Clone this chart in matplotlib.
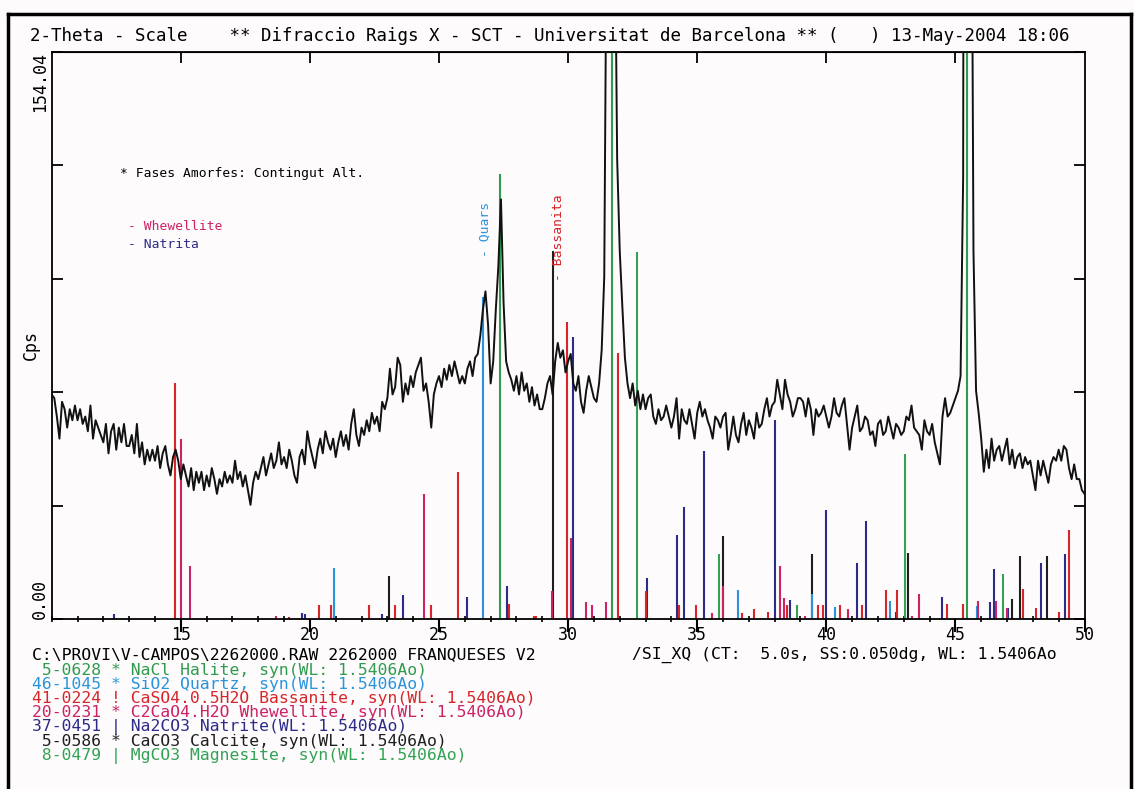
import numpy as np
import matplotlib.pyplot as plt
from matplotlib.lines import Line2D

plt.rcParams['font.family'] = ['DejaVu Sans Mono', 'DejaVu Sans']

W, H = 1134, 789

# diffractogram, 2-theta from 10 to 50 deg, 0.1 deg step
two_theta = np.round(np.arange(100, 501) * 0.1, 1)
counts = [
    61, 60, 55, 49, 59, 57, 52, 57, 54, 58,   # 10
    54, 57, 53, 55, 51, 58, 49, 54, 52, 50,   # 11
    48, 53, 45, 51, 53, 46, 52, 48, 53, 47,   # 12
    47, 50, 45, 53, 44, 48, 42, 46, 43, 46,   # 13
    43, 47, 41, 45, 47, 42, 39, 44, 46, 43,   # 14
    38, 42, 39, 36, 41, 35, 40, 37, 40, 35,   # 15
    39, 36, 41, 38, 34, 38, 36, 40, 37, 39,   # 16
    37, 43, 38, 40, 36, 39, 35, 31, 37, 40,   # 17
    38, 41, 44, 39, 42, 45, 41, 43, 48, 42,   # 18
    44, 41, 46, 43, 39, 37, 44, 46, 42, 51,   # 19
    47, 44, 41, 46, 49, 45, 51, 48, 46, 49,   # 20
    44, 48, 51, 47, 50, 46, 53, 57, 50, 47,   # 21
    52, 50, 54, 51, 56, 53, 55, 51, 59, 57,   # 22
    60, 68, 61, 63, 71, 69, 59, 64, 61, 66,   # 23
    63, 67, 69, 71, 62, 64, 59, 52, 61, 64,   # 24
    66, 63, 68, 65, 69, 66, 70, 67, 64, 66,   # 25
    64, 68, 70, 66, 71, 72, 77, 84, 89, 80,   # 26
    64, 70, 84, 96, 114, 86, 70, 67, 65, 62,  # 27
    66, 61, 67, 62, 64, 59, 63, 58, 61, 57,   # 28
    57, 60, 64, 66, 61, 70, 75, 71, 73, 67,   # 29
    70, 72, 64, 62, 66, 59, 56, 62, 66, 63,   # 30
    60, 59, 64, 73, 93, 200, 1000, 1400, 200, 125,  # 31
    100, 85, 71, 64, 60, 64, 58, 62, 57, 61,  # 32
    57, 60, 61, 55, 53, 57, 54, 55, 58, 55,   # 33
    52, 55, 60, 49, 57, 54, 53, 57, 53, 49,   # 34
    56, 59, 55, 57, 54, 52, 49, 55, 54, 52,   # 35
    55, 56, 46, 50, 55, 50, 48, 53, 56, 50,   # 36
    54, 52, 49, 56, 52, 53, 57, 60, 55, 58,   # 37
    59, 65, 61, 57, 65, 61, 59, 55, 57, 60,   # 38
    60, 59, 55, 60, 57, 50, 57, 55, 56, 58,   # 39
    55, 52, 55, 60, 56, 55, 58, 60, 53, 46,   # 40
    52, 55, 58, 51, 52, 55, 54, 50, 51, 47,   # 41
    53, 54, 50, 51, 55, 52, 49, 53, 52, 50,   # 42
    51, 55, 54, 58, 52, 51, 50, 46, 54, 51,   # 43
    50, 53, 48, 45, 42, 55, 60, 55, 56, 58,   # 44
    60, 62, 66, 120, 600, 900, 250, 100, 62, 56,  # 45
    49, 40, 46, 41, 49, 43, 46, 47, 43, 46,   # 46
    49, 42, 46, 41, 44, 45, 41, 44, 42, 43,   # 47
    39, 35, 43, 39, 43, 40, 37, 42, 44, 43,   # 48
    46, 43, 47, 46, 41, 38, 42, 38, 38, 35,   # 49
    34,
]

# reference patterns (position in 2-theta, stick height in cps)
halite_pos = [27.36, 31.70, 45.46]
halite_h = [121, 930, 510]

quartz_pos = [20.92, 26.69, 36.57, 39.46, 40.35, 42.47, 45.82]
quartz_h = [13.8, 87.6, 7.9, 6.7, 3.2, 5.0, 3.4]

bassanite_pos = [14.79, 19.19, 20.36, 20.81, 22.30, 23.31, 24.69, 25.72, 27.72,
                 28.68, 28.76, 29.94, 31.92, 33.02, 34.31, 34.95, 36.75, 37.21,
                 37.75, 38.47, 39.69, 39.86, 40.53, 41.39, 42.31, 42.74, 44.69,
                 45.28, 47.63, 48.12, 49.00, 49.39]
bassanite_h = [64, 0.6, 3.9, 3.9, 3.9, 3.9, 3.9, 40, 4.1,
               0.8, 0.8, 80.6, 72.4, 7.7, 3.9, 3.9, 1.6, 2.7,
               1.9, 3.9, 3.9, 3.9, 3.9, 3.9, 7.9, 7.9, 4.1,
               4.1, 8.1, 3.0, 1.9, 24.1]

whewellite_pos = [15.01, 15.36, 18.69, 24.42, 29.38, 30.12, 30.69, 30.91, 31.47,
                  35.58, 36.01, 38.21, 38.35, 39.16, 40.85, 43.33, 43.60, 45.89,
                  46.58, 46.99]
whewellite_h = [48.8, 14.4, 0.8, 34, 7.7, 22, 4.5, 3.9, 4.5,
                1.6, 9.0, 14.5, 5.7, 0.8, 2.7, 0.8, 6.8, 4.8,
                4.8, 3.0]

natrite_pos = [12.42, 19.69, 19.82, 22.79, 23.59, 26.10, 27.64, 30.18, 33.07,
               34.23, 34.49, 35.27, 38.02, 38.59, 40.00, 41.18, 41.54, 42.70,
               44.49, 46.34, 46.50, 47.05, 48.30, 49.26]
natrite_h = [1.4, 1.6, 1.4, 1.4, 6.6, 5.9, 9.0, 76.5, 11.2,
             22.7, 30.3, 45.7, 54, 5.2, 29.6, 15.1, 26.5, 1.9,
             5.9, 4.6, 13.6, 3.0, 15.3, 17.6]

calcite_pos = [23.07, 29.40, 36.01, 39.46, 43.16, 47.18, 47.50, 48.56]
calcite_h = [11.7, 100, 22.5, 17.6, 17.8, 5.3, 17, 17]

magnesite_pos = [32.66, 35.86, 38.87, 43.04, 46.83]
magnesite_h = [99.8, 17.6, 3.7, 44.8, 12.1]

c_halite = '#2f9b4f'
c_quartz = '#2b93dc'
c_bassanite = '#d6262a'
c_whewellite = '#cc2266'
c_natrite = '#2c2c88'
c_calcite = '#1e1e1e'
c_magnesite = '#33a255'

card_lines = [
    (" 5-0628 * NaCl Halite, syn(WL: 1.5406Ao)", c_halite),
    ("46-1045 * SiO2 Quartz, syn(WL: 1.5406Ao)", c_quartz),
    ("41-0224 ! CaSO4.0.5H2O Bassanite, syn(WL: 1.5406Ao)", c_bassanite),
    ("20-0231 * C2CaO4.H2O Whewellite, syn(WL: 1.5406Ao)", c_whewellite),
    ("37-0451 | Na2CO3 Natrite(WL: 1.5406Ao)", c_natrite),
    (" 5-0586 * CaCO3 Calcite, syn(WL: 1.5406Ao)", c_calcite),
    (" 8-0479 | MgCO3 Magnesite, syn(WL: 1.5406Ao)", c_magnesite),
]

paper = '#fdfbfb'
fig = plt.figure(figsize=(W / 100, H / 100), dpi=100, facecolor=paper)
ax = fig.add_axes([51.7 / W, 1 - 619 / H, (1084.5 - 51.7) / W, (619 - 52) / H])
ax.set_facecolor(paper)

# sticks first, scan on top
patterns = [
    (calcite_pos, calcite_h, c_calcite),
    (natrite_pos, natrite_h, c_natrite),
    (bassanite_pos, bassanite_h, c_bassanite),
    (quartz_pos, quartz_h, c_quartz),
    (whewellite_pos, whewellite_h, c_whewellite),
    (magnesite_pos, magnesite_h, c_magnesite),
    (halite_pos, halite_h, c_halite),
]
for pos, h, col in patterns:
    ax.vlines(pos, 0, h, colors=col, lw=1.5, zorder=2)

ax.plot(two_theta, counts, color='#111111', lw=1.4, zorder=3)

ax.set_xlim(10, 50)
ax.set_ylim(0, 154.04)
for s in ax.spines.values():
    s.set_linewidth(1.3)

ax.set_xticks(range(15, 51, 5))
ax.set_xticks(np.arange(10, 51, 1), minor=True)
ax.tick_params(axis='x', which='major', direction='out', length=9, width=1.5,
               labelsize=12, pad=-4)
ax.tick_params(axis='x', which='minor', direction='inout', length=5, width=1.2)
ax.set_yticks(np.linspace(0, 154.04, 6))
ax.tick_params(axis='y', direction='in', length=8, width=1.3,
               left=True, right=True, labelleft=False)

top = ax.secondary_xaxis('top')
top.set_xticks(range(15, 50, 5))
top.tick_params(direction='in', length=8, width=1.3, labeltop=False)

ax.text(-0.011, 154.04, '154.04', rotation=90, ha='center', va='top',
        fontsize=12, transform=ax.get_yaxis_transform())
ax.text(-0.011, 0, '0.00', rotation=90, ha='center', va='bottom',
        fontsize=12, transform=ax.get_yaxis_transform())
ax.set_ylabel('Cps', fontsize=12)
ax.yaxis.set_label_coords(-0.011, 0.483)

# notes inside the plot
ax.text(0.066, 0.785, '* Fases Amorfes: Contingut Alt.', fontsize=9.4,
        va='center', transform=ax.transAxes)
ax.text(0.074, 0.693, '- Whewellite', fontsize=9.4, color=c_whewellite,
        va='center', transform=ax.transAxes)
ax.text(0.074, 0.661, '- Natrita', fontsize=9.4, color=c_natrite,
        va='center', transform=ax.transAxes)
ax.text(26.78, 98.4, '- Quars', rotation=90, ha='center', va='bottom',
        fontsize=9.4, color=c_quartz)
ax.text(29.62, 91.8, '- Bassanita', rotation=90, ha='center', va='bottom',
        fontsize=9.4, color=c_bassanite)


def ftext(x, y, s, **kw):
    fig.text(x / W, 1 - y / H, s, va='center', ha='left', **kw)


ftext(30, 36, "2-Theta - Scale    ** Difraccio Raigs X - SCT - Universitat "
              "de Barcelona ** (   ) 13-May-2004 18:06", fontsize=12.6)
ftext(32, 655, r"C:\PROVI\V-CAMPOS\2262000.RAW 2262000 FRANQUESES V2", fontsize=11.8)
ftext(632, 655, "/SI_XQ (CT:  5.0s, SS:0.050dg, WL: 1.5406Ao", fontsize=11.8)
for i, (line, col) in enumerate(card_lines):
    ftext(32, 670 + i * 14.3, line, fontsize=11.8, color=col)

# frame around the sheet
for xs, ys in [([8, 8], [14, H]), ([8, 1131], [14, 14]), ([1131, 1131], [14, H])]:
    fig.add_artist(Line2D([x / W for x in xs], [1 - y / H for y in ys],
                          transform=fig.transFigure, color='black', lw=2.5))

fig.savefig('out.png', dpi=100, facecolor=paper)
